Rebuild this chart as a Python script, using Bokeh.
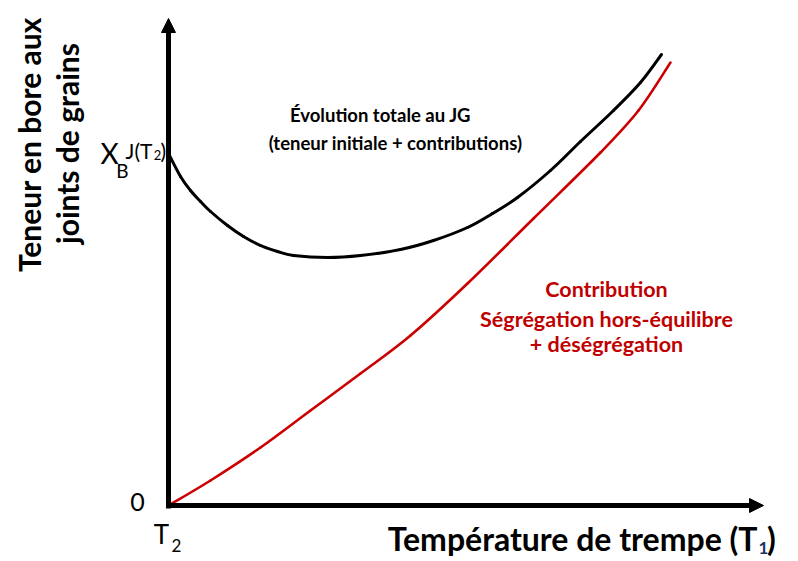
import math
from bokeh.plotting import figure
from bokeh.models import Range1d, Label, Arrow, NormalHead
from bokeh.embed import file_html
from bokeh.resources import INLINE

# Total boron content at grain boundaries (black curve)
temp_total = [0.0, 0.24, 0.44, 0.64, 0.84, 1.18, 1.5, 1.84, 2.18, 2.5, 3.18, 3.84, 4.64, 5.3,
              5.98, 6.48, 6.98, 7.64, 8.24, 8.9, 9.44, 9.86]
boron_total = [7.04, 6.58, 6.3, 6.08, 5.88, 5.6, 5.38, 5.2, 5.08, 5.0, 4.96, 5.0, 5.12, 5.3,
               5.56, 5.84, 6.16, 6.7, 7.28, 7.9, 8.46, 9.02]

# Contribution non-equilibrium segregation + desegregation (red curve)
temp_contrib = [0.0, 0.84, 1.84, 2.84, 3.84, 4.84, 5.98, 7.3, 8.64, 9.4, 10.04]
boron_contrib = [0.0, 0.5, 1.16, 1.9, 2.64, 3.4, 4.44, 5.74, 7.06, 7.9, 8.86]

FONT = "Lato"
RED = "#c00000"

p = figure(width=798, height=561, output_backend="svg", toolbar_location=None,
           x_range=Range1d(-3.36, 12.6), y_range=Range1d(-1.12, 10.1),
           x_axis_type=None, y_axis_type=None,
           min_border=0, min_border_left=0, min_border_right=0,
           min_border_top=0, min_border_bottom=0)
p.outline_line_color = None
p.xgrid.visible = False
p.ygrid.visible = False
p.background_fill_color = "white"


def smooth(xs, ys, color, width):
    """Draw a smooth curve through the data points (Catmull-Rom as cubic Beziers)."""
    n = len(xs)
    x0, y0, x1, y1, cx0, cy0, cx1, cy1 = ([] for _ in range(8))
    for i in range(n - 1):
        pa = max(i - 1, 0)
        pd = min(i + 2, n - 1)
        x0.append(xs[i]); y0.append(ys[i])
        x1.append(xs[i + 1]); y1.append(ys[i + 1])
        cx0.append(xs[i] + (xs[i + 1] - xs[pa]) / 6.0)
        cy0.append(ys[i] + (ys[i + 1] - ys[pa]) / 6.0)
        cx1.append(xs[i + 1] - (xs[pd] - xs[i]) / 6.0)
        cy1.append(ys[i + 1] - (ys[pd] - ys[i]) / 6.0)
    p.bezier(x0=x0, y0=y0, x1=x1, y1=y1, cx0=cx0, cy0=cy0, cx1=cx1, cy1=cy1,
             line_color=color, line_width=width, line_cap="round")


smooth(temp_contrib, boron_contrib, "#cc0000", 2.6)
smooth(temp_total, boron_total, "black", 3)

# axes with arrow heads
p.add_layout(Arrow(x_start=0, y_start=-0.06, x_end=0, y_end=9.74, line_width=5, line_color="black",
                   end=NormalHead(size=14, fill_color="black", line_color="black", line_width=1)))
p.add_layout(Arrow(x_start=-0.05, y_start=0, x_end=11.9, y_end=0, line_width=5, line_color="black",
                   end=NormalHead(size=14, fill_color="black", line_color="black", line_width=1)))


def lab(x, y, text, size, color="black", style="normal", align="left", baseline="middle", angle=0.0):
    p.add_layout(Label(x=x, y=y, text=text, text_font=FONT, text_font_size=f"{size}px",
                       text_color=color, text_font_style=style, text_align=align,
                       text_baseline=baseline, angle=angle))


# y axis title
lab(-2.80, 7.22, "Teneur en bore aux", 30, style="bold", align="center", angle=math.pi / 2)
lab(-2.04, 7.24, "joints de grains", 30, style="bold", align="center", angle=math.pi / 2)

# x axis title
lab(11.78, -0.66, "Température de trempe (T", 32, style="bold", align="right")
lab(11.80, -0.85, "1", 17, color="#17365d", style="bold")
lab(11.97, -0.66, ")", 32, style="bold")

# origin labels
lab(-0.62, 0.08, "0", 25, align="center")
lab(-0.14, -0.56, "T", 26, align="center")
lab(0.16, -0.80, "2", 17, align="center")

# X_B^{J(T2)}
lab(-1.18, 7.06, "X", 28, align="center")
lab(-0.92, 6.70, "B", 19, align="center")
lab(-0.32, 7.10, "J(T", 21, align="right")
lab(-0.22, 7.02, "2", 13, align="center")
lab(-0.16, 7.10, ")", 21, align="left")

# annotations
lab(4.24, 7.81, "Évolution totale au JG", 18.5, style="bold", align="center")
lab(4.54, 7.25, "(teneur initiale + contributions)", 18.5, style="bold", align="center")
lab(8.76, 4.33, "Contribution", 21.5, color=RED, style="bold", align="center")
lab(8.76, 3.73, "Ségrégation hors-équilibre", 21.5, color=RED, style="bold", align="center")
lab(8.76, 3.23, "+ déségrégation", 21.5, color=RED, style="bold", align="center")

open("out.html", "w").write(file_html(p, INLINE))
